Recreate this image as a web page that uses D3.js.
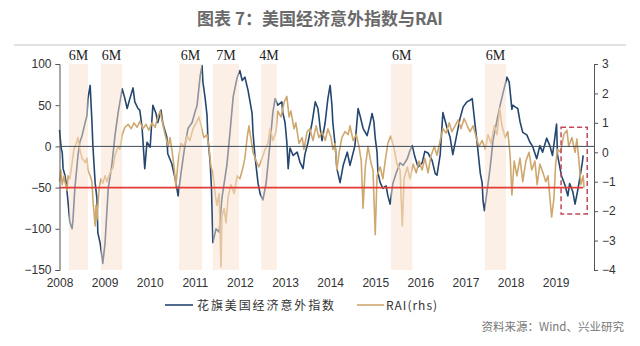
<!DOCTYPE html>
<html>
<head>
<meta charset="utf-8">
<script src="https://cdn.jsdelivr.net/npm/d3@7"></script>
<style>
  html, body { margin: 0; padding: 0; background: #fff; }
  svg { display: block; }
</style>
</head>
<body>
<svg id="chart" width="640" height="346"></svg>
<script>
// Citi US Economic Surprise Index (left axis) and RAI (right axis), decimal years
const cesiDates = [2008.00,2008.02,2008.04,2008.06,2008.08,2008.12,2008.15,2008.19,2008.23,2008.28,2008.30,2008.34,2008.41,2008.45,2008.50,2008.57,2008.61,2008.63,2008.68,2008.72,2008.74,2008.79,2008.83,2008.85,2008.90,2008.94,2008.96,2009.01,2009.08,2009.16,2009.23,2009.30,2009.39,2009.45,2009.50,2009.56,2009.63,2009.67,2009.74,2009.78,2009.83,2009.85,2009.89,2009.94,2010.01,2010.07,2010.14,2010.18,2010.25,2010.29,2010.38,2010.40,2010.49,2010.56,2010.63,2010.70,2010.78,2010.85,2010.94,2011.00,2011.05,2011.12,2011.16,2011.18,2011.23,2011.27,2011.29,2011.34,2011.37,2011.40,2011.47,2011.54,2011.60,2011.71,2011.78,2011.85,2011.94,2012.00,2012.05,2012.11,2012.18,2012.27,2012.29,2012.33,2012.40,2012.45,2012.51,2012.58,2012.67,2012.73,2012.78,2012.84,2012.93,2012.95,2013.00,2013.04,2013.07,2013.11,2013.18,2013.27,2013.33,2013.40,2013.44,2013.51,2013.60,2013.67,2013.73,2013.78,2013.82,2013.89,2013.95,2014.00,2014.04,2014.06,2014.11,2014.15,2014.22,2014.29,2014.38,2014.44,2014.55,2014.62,2014.66,2014.73,2014.82,2014.89,2014.93,2014.97,2015.00,2015.04,2015.06,2015.11,2015.17,2015.24,2015.28,2015.33,2015.39,2015.48,2015.55,2015.62,2015.71,2015.77,2015.82,2015.88,2015.95,2016.04,2016.10,2016.17,2016.26,2016.33,2016.37,2016.44,2016.50,2016.59,2016.66,2016.72,2016.81,2016.88,2016.95,2017.03,2017.10,2017.15,2017.21,2017.26,2017.28,2017.33,2017.37,2017.39,2017.42,2017.48,2017.55,2017.61,2017.70,2017.76,2017.83,2017.92,2017.97,2018.03,2018.05,2018.10,2018.16,2018.21,2018.27,2018.36,2018.43,2018.49,2018.58,2018.65,2018.71,2018.80,2018.87,2018.93,2019.02,2019.04,2019.13,2019.20,2019.27,2019.31,2019.38,2019.43,2019.50,2019.59,2019.61];
const cesiValues = [20,8,-3,-7,-27,-35,-45,-68,-92,-100,-88,-51,-11,5,13,29,38,58,74,29,1,-44,-63,-105,-117,-133,-142,-117,-51,-23,13,41,70,58,46,58,71,54,46,44,23,7,-27,5,-1,50,40,29,44,28,11,-9,-21,-38,-60,-30,1,22,29,41,50,86,98,78,58,38,10,-19,-51,-117,-100,-104,-63,-23,17,60,84,92,80,84,68,40,17,-10,-44,-58,-65,-45,5,41,58,50,54,41,29,5,-27,-2,-11,-7,-19,-27,-10,5,29,54,46,22,7,29,58,74,50,29,2,-27,-44,-23,-7,-23,1,46,38,22,13,29,40,30,10,-7,-32,-44,-51,-48,-60,-70,-45,-30,-20,-23,-15,-5,1,-13,-25,-20,-6,-8,-17,-33,-35,-10,41,23,11,-10,15,34,48,54,56,58,28,4,-7,-33,-44,-66,-78,-54,-25,7,32,48,64,84,78,45,50,48,46,30,17,14,5,0,-15,1,-7,10,1,-11,27,-10,-36,-46,-60,-45,-55,-70,-50,-20,-11];

const raiDates = [2008.00,2008.03,2008.06,2008.10,2008.12,2008.17,2008.19,2008.23,2008.28,2008.32,2008.37,2008.41,2008.45,2008.50,2008.57,2008.61,2008.63,2008.68,2008.72,2008.74,2008.79,2008.81,2008.83,2008.88,2008.92,2008.96,2009.01,2009.05,2009.12,2009.19,2009.23,2009.30,2009.34,2009.39,2009.45,2009.52,2009.59,2009.65,2009.72,2009.78,2009.85,2009.92,2009.98,2010.05,2010.12,2010.18,2010.23,2010.27,2010.34,2010.41,2010.45,2010.49,2010.54,2010.58,2010.63,2010.69,2010.76,2010.83,2010.89,2010.96,2011.03,2011.09,2011.14,2011.20,2011.27,2011.31,2011.36,2011.40,2011.45,2011.49,2011.54,2011.58,2011.60,2011.65,2011.69,2011.74,2011.80,2011.87,2011.94,2012.00,2012.07,2012.11,2012.16,2012.20,2012.25,2012.29,2012.36,2012.42,2012.49,2012.56,2012.62,2012.67,2012.73,2012.80,2012.84,2012.91,2012.98,2013.04,2013.09,2013.13,2013.20,2013.24,2013.31,2013.38,2013.42,2013.49,2013.55,2013.62,2013.69,2013.75,2013.82,2013.89,2013.95,2014.02,2014.06,2014.11,2014.15,2014.20,2014.26,2014.33,2014.40,2014.44,2014.51,2014.58,2014.64,2014.69,2014.73,2014.78,2014.84,2014.91,2014.95,2015.00,2015.04,2015.11,2015.17,2015.22,2015.28,2015.34,2015.41,2015.48,2015.55,2015.60,2015.64,2015.71,2015.77,2015.84,2015.91,2015.97,2016.04,2016.10,2016.17,2016.24,2016.31,2016.37,2016.44,2016.50,2016.57,2016.64,2016.70,2016.77,2016.84,2016.90,2016.97,2017.04,2017.10,2017.17,2017.24,2017.30,2017.37,2017.44,2017.50,2017.57,2017.64,2017.70,2017.76,2017.81,2017.88,2017.94,2017.99,2018.03,2018.08,2018.14,2018.21,2018.27,2018.34,2018.41,2018.47,2018.54,2018.59,2018.65,2018.72,2018.78,2018.83,2018.87,2018.91,2018.96,2019.00,2019.04,2019.11,2019.18,2019.25,2019.29,2019.36,2019.43,2019.47,2019.51,2019.56,2019.61,2019.63];
const raiValues = [-1.0,-0.6,-1.1,-0.8,-1.0,-1.3,-0.8,-0.9,-0.35,0.1,0.3,0.5,0.1,-0.2,-0.35,-0.2,-0.6,-0.8,-1.0,-1.6,-2.5,-1.8,-2.3,-1.2,-0.9,-1.05,-0.8,-1.0,-0.7,-0.5,-0.1,0.2,0.1,0.6,0.85,0.95,0.8,1.0,0.85,1.05,0.8,0.95,0.75,1.0,0.85,1.2,1.4,1.1,0.6,0.2,0.5,0.1,-0.5,-1.15,-0.3,0.3,0.2,0.55,0.4,0.8,1.0,1.2,0.9,0.5,0.6,0.2,-0.5,-0.7,-1.4,-1.8,-1.4,-3.9,-2.2,-1.9,-2.4,-1.5,-1.1,-1.4,-0.8,-0.9,-0.5,-0.2,0.5,0.9,0.4,0.0,-0.3,-0.5,-0.2,0.1,0.3,0.8,0.4,0.7,1.4,1.2,1.7,1.9,1.2,1.4,0.8,1.0,0.3,0.5,0.1,0.7,0.8,0.4,0.9,0.5,0.7,0.4,0.8,0.5,0.1,0.3,-0.6,0.0,0.5,0.7,0.6,0.9,0.4,0.6,0.2,-0.3,-1.9,-0.5,0.2,-0.4,-0.6,-2.8,-0.8,-0.5,-0.9,-0.3,0.3,0.55,0.2,-0.4,-0.6,-2.5,-0.9,-0.5,-0.9,-0.4,-0.7,-0.3,-0.6,-0.2,-0.7,-0.1,0.2,-0.1,0.4,0.8,0.65,1.0,0.7,0.9,1.1,0.8,1.15,0.9,0.7,0.9,0.5,0.2,0.4,0.1,0.6,0.3,0.9,0.6,1.5,0.9,0.5,0.7,-0.1,-1.45,-0.3,-0.8,-0.2,-1.0,-0.3,0.0,-0.6,-0.3,-1.1,-0.4,-0.7,-1.0,-0.8,-1.5,-2.2,-1.6,-0.4,0.1,0.0,0.6,0.75,0.2,0.5,0.0,0.45,-0.2,-1.1,-0.8,-1.2];

// shaded periods and their length labels
const bandStarts = [2008.21, 2008.92, 2010.65, 2011.40, 2012.47, 2015.35, 2017.43];
const bandEnds   = [2008.63, 2009.39, 2011.16, 2011.98, 2012.82, 2015.82, 2017.90];
const bandLabels = ["6M", "6M", "6M", "7M", "4M", "6M", "6M"];

// axis ticks
const xTickYears = [2008,2009,2010,2011,2012,2013,2014,2015,2016,2017,2018,2019];
const leftTicks = [-150,-100,-50,0,50,100];
const rightTicks = [-4,-3,-2,-1,0,1,2,3];

// reference level and highlighted recent window
const thresholdLevel = -50;
const boxYears = [2019.12, 2019.70];
const boxRai = [0.85, -2.1];

const titleText = "图表 7：美国经济意外指数与RAI";
const legendNames = ["花旗美国经济意外指数", "RAI(rhs)"];
const sourceText = "资料来源：Wind、兴业研究";

const colBlue = "#24466f";
const colTan = "#cfa86f";

const svg = d3.select("#chart");
const plotLeft = 59.5, plotRight = 594, plotTop = 64, plotBottom = 270;

const x = d3.scaleLinear().domain([2008, 2019.85]).range([plotLeft, plotRight]);
const yL = d3.scaleLinear().domain([-150, 100]).range([plotBottom, plotTop]);
const yR = d3.scaleLinear().domain([-4, 3]).range([plotBottom, plotTop]);

// title and rule
svg.append("text")
  .attr("x", 320).attr("y", 25)
  .attr("text-anchor", "middle")
  .attr("font-family", "'Noto Sans CJK SC', sans-serif")
  .attr("font-size", 17).attr("font-weight", 700)
  .attr("fill", "#6a6a6a")
  .text(titleText);
svg.append("line")
  .attr("x1", 14).attr("x2", 626).attr("y1", 45).attr("y2", 45)
  .attr("stroke", "#d9d9d9").attr("stroke-width", 1.5);

const cesiPts = cesiDates.map((d, i) => [d, cesiValues[i]]);
const raiPts = raiDates.map((d, i) => [d, raiValues[i]]);

const lineL = d3.line().x(d => x(d[0])).y(d => yL(d[1]));
const lineR = d3.line().x(d => x(d[0])).y(d => yR(d[1]));

svg.append("path").datum(cesiPts)
  .attr("d", lineL).attr("fill", "none")
  .attr("stroke", colBlue).attr("stroke-width", 1.6).attr("stroke-linejoin", "round");
svg.append("path").datum(raiPts)
  .attr("d", lineR).attr("fill", "none")
  .attr("stroke", colTan).attr("stroke-width", 1.6).attr("stroke-linejoin", "round");

// translucent shaded periods over the lines
const bands = bandStarts.map((s, i) => ({ s, e: bandEnds[i], label: bandLabels[i] }));
svg.append("g").selectAll("rect").data(bands).join("rect")
  .attr("x", d => x(d.s)).attr("width", d => x(d.e) - x(d.s))
  .attr("y", yL(100)).attr("height", yL(-150) - yL(100))
  .attr("fill", "#fadfcc").attr("opacity", 0.5);
svg.append("g").selectAll("text").data(bands).join("text")
  .attr("x", d => (x(d.s) + x(d.e)) / 2).attr("y", 60)
  .attr("text-anchor", "middle")
  .attr("font-family", "'Liberation Serif', 'DejaVu Serif', serif")
  .attr("font-size", 14).attr("fill", "#222")
  .text(d => d.label);

// zero line and threshold line
svg.append("line")
  .attr("x1", plotLeft).attr("x2", plotRight).attr("y1", yL(0)).attr("y2", yL(0))
  .attr("stroke", "#3e4a5a").attr("stroke-width", 1);
svg.append("line")
  .attr("x1", x(2008)).attr("x2", x(cesiDates[cesiDates.length - 1]))
  .attr("y1", yL(thresholdLevel)).attr("y2", yL(thresholdLevel))
  .attr("stroke", "#e23a34").attr("stroke-width", 1.6);

// dashed box around the latest months
svg.append("rect")
  .attr("x", x(boxYears[0])).attr("width", x(boxYears[1]) - x(boxYears[0]))
  .attr("y", yR(boxRai[0])).attr("height", yR(boxRai[1]) - yR(boxRai[0]))
  .attr("fill", "none").attr("stroke", "#c0485a")
  .attr("stroke-width", 1.5).attr("stroke-dasharray", "5,3");

// axes
const axisFont = "'Liberation Sans', Arial, sans-serif";
const gL = svg.append("g").attr("transform", `translate(${plotLeft},0)`)
  .call(d3.axisLeft(yL).tickValues(leftTicks).tickFormat(d3.format("d"))
    .tickSize(4).tickSizeOuter(4).tickPadding(4));
const gR = svg.append("g").attr("transform", `translate(${plotRight},0)`)
  .call(d3.axisRight(yR).tickValues(rightTicks).tickFormat(d3.format("d"))
    .tickSize(4).tickSizeOuter(4).tickPadding(4));
[gL, gR].forEach(g => {
  g.selectAll("path, line").attr("stroke", "#555");
  g.selectAll("text").attr("font-family", axisFont).attr("font-size", 12).attr("fill", "#333");
});

const gX = svg.append("g").attr("transform", `translate(0,${plotBottom + 5})`)
  .call(d3.axisBottom(x).tickValues(xTickYears).tickFormat(d3.format("d")).tickSize(0).tickPadding(3));
gX.select(".domain").remove();
gX.selectAll("text").attr("font-family", axisFont).attr("font-size", 12).attr("fill", "#333");

// legend
const legY = 305;
const leg = svg.append("g");
leg.append("line").attr("x1", 165).attr("x2", 193).attr("y1", legY).attr("y2", legY)
  .attr("stroke", colBlue).attr("stroke-width", 1.6);
leg.append("text").attr("x", 197).attr("y", legY + 4.5)
  .attr("font-family", "'Noto Sans CJK SC', sans-serif").attr("font-size", 12)
  .attr("letter-spacing", 1.9).attr("fill", "#333").text(legendNames[0]);
leg.append("line").attr("x1", 357).attr("x2", 384).attr("y1", legY).attr("y2", legY)
  .attr("stroke", colTan).attr("stroke-width", 1.6);
leg.append("text").attr("x", 386).attr("y", legY + 4.5)
  .attr("font-family", "'Noto Sans CJK SC', sans-serif").attr("font-size", 12)
  .attr("letter-spacing", 1).attr("fill", "#333").text(legendNames[1]);

// source note
svg.append("text").attr("x", 624).attr("y", 331)
  .attr("text-anchor", "end")
  .attr("font-family", "'Noto Sans CJK SC', sans-serif").attr("font-size", 11.5)
  .attr("fill", "#777").text(sourceText);
</script>
</body>
</html>
